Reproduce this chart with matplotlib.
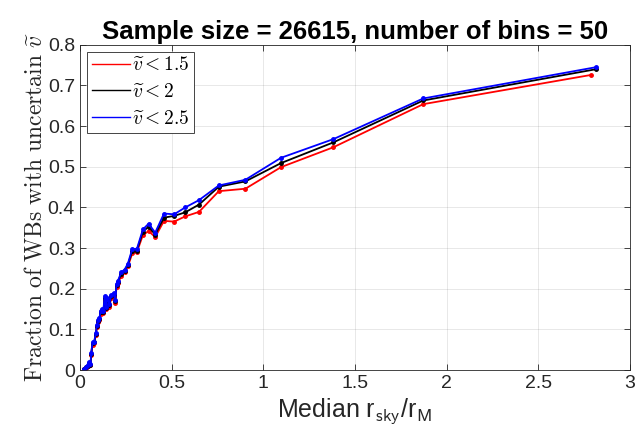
import numpy as np
import matplotlib.pyplot as plt

# median r_sky / r_M per bin
r_med = [0.023, 0.035, 0.042, 0.051, 0.058, 0.062, 0.069, 0.078, 0.087, 0.093,
         0.100, 0.107, 0.113, 0.120, 0.128, 0.135, 0.142, 0.150, 0.160, 0.172,
         0.185, 0.193, 0.200, 0.208, 0.226, 0.244, 0.262, 0.286, 0.311, 0.344,
         0.375, 0.411, 0.459, 0.514, 0.575, 0.650, 0.758, 0.903, 1.097, 1.383,
         1.873, 2.816]
r_med_red = r_med[:-1] + [2.790]

frac_15 = [0.002, 0.006, 0.010, 0.016, 0.012, 0.036, 0.062, 0.066, 0.085, 0.105,
           0.118, 0.122, 0.138, 0.146, 0.140, 0.172, 0.150, 0.170, 0.155, 0.178,
           0.183, 0.165, 0.205, 0.213, 0.232, 0.240, 0.255, 0.287, 0.290, 0.332,
           0.342, 0.327, 0.367, 0.365, 0.378, 0.389, 0.440, 0.446, 0.499, 0.548,
           0.654, 0.726]
frac_2 = [0.002, 0.007, 0.011, 0.018, 0.013, 0.040, 0.066, 0.068, 0.088, 0.109,
          0.121, 0.125, 0.143, 0.148, 0.142, 0.178, 0.153, 0.175, 0.159, 0.182,
          0.187, 0.169, 0.209, 0.217, 0.237, 0.244, 0.259, 0.293, 0.294, 0.340,
          0.353, 0.333, 0.375, 0.379, 0.388, 0.407, 0.451, 0.464, 0.509, 0.560,
          0.663, 0.740]
frac_25 = [0.002, 0.008, 0.012, 0.019, 0.014, 0.042, 0.068, 0.070, 0.090, 0.112,
           0.123, 0.128, 0.146, 0.150, 0.145, 0.182, 0.155, 0.178, 0.162, 0.185,
           0.190, 0.172, 0.212, 0.220, 0.241, 0.247, 0.262, 0.298, 0.298, 0.346,
           0.360, 0.338, 0.385, 0.383, 0.400, 0.418, 0.454, 0.468, 0.522, 0.568,
           0.668, 0.745]

plt.rcParams["font.family"] = ["Liberation Sans", "DejaVu Sans"]
plt.rcParams["mathtext.fontset"] = "cm"

axc = "#262626"
fig = plt.figure(figsize=(6.44, 4.48), dpi=100)
ax = fig.add_axes([0.124, 0.174, 0.854, 0.726])

ax.plot(r_med_red, frac_15, "-", color="red", marker=".", ms=5, lw=1.3,
        label=r"$\widetilde{v} < 1.5$")
ax.plot(r_med, frac_2, "-", color="black", marker=".", ms=5, lw=1.3,
        label=r"$\widetilde{v} < 2$")
ax.plot(r_med, frac_25, "-", color="blue", marker=".", ms=5, lw=1.3,
        label=r"$\widetilde{v} < 2.5$")

ax.set_xlim(0, 3)
ax.set_ylim(0, 0.8)
ax.set_xticks(np.arange(0, 3.01, 0.5))
ax.set_xticklabels(["0", "0.5", "1", "1.5", "2", "2.5", "3"])
ax.set_yticks(np.arange(0, 0.81, 0.1))
ax.set_yticklabels(["0", "0.1", "0.2", "0.3", "0.4", "0.5", "0.6", "0.7", "0.8"])
ax.tick_params(direction="in", top=True, right=True, length=4, width=0.6,
               colors=axc, labelsize=14, labelcolor=axc)
for s in ax.spines.values():
    s.set_color(axc)
    s.set_linewidth(0.6)
ax.grid(True, color="#262626", alpha=0.12, lw=0.6)

ax.set_title("Sample size = 26615, number of bins = 50", fontsize=18.5,
             fontweight="bold", pad=4)
ax.set_xlabel(r"Median r$_{\mathsf{sky}}$/r$_{\mathsf{M}}$", fontsize=18,
              color=axc, labelpad=3)
ax.set_ylabel(r"$\mathrm{Fraction\ of\ WBs\ with\ uncertain}\ \widetilde{v}$",
              fontsize=17, color=axc, labelpad=1)

leg = ax.legend(loc="upper left", fontsize=14, handlelength=2.0,
                handletextpad=0.1, borderaxespad=0.35, borderpad=0.25,
                labelspacing=0.45, fancybox=False, framealpha=1)
leg.get_frame().set_edgecolor(axc)
leg.get_frame().set_linewidth(0.6)
for h in leg.get_lines():
    h.set_marker("")
    h.set_linewidth(1.0)

fig.savefig("out.png", dpi=100)
